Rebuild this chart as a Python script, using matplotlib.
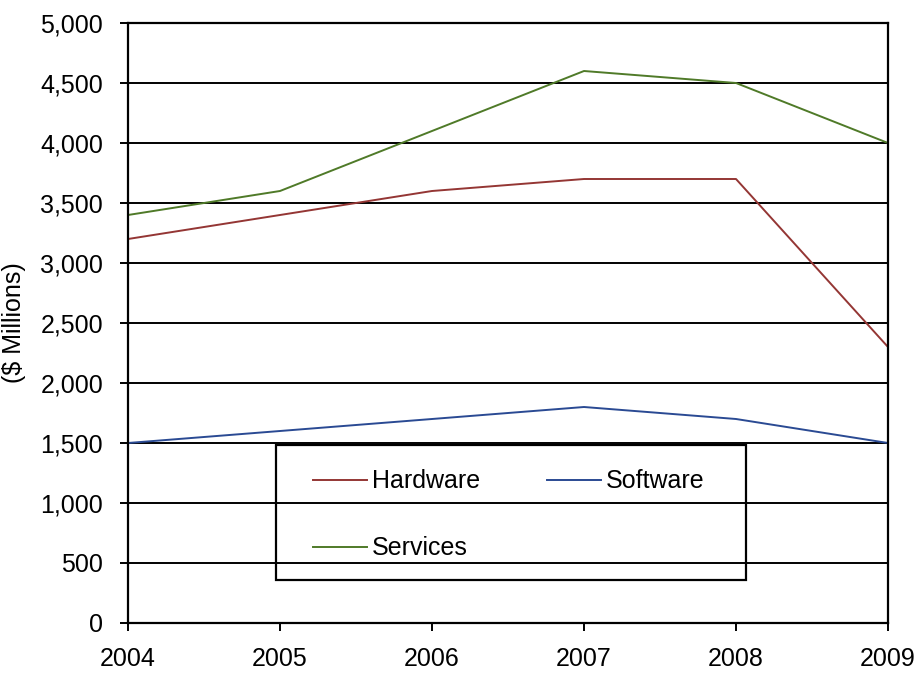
import matplotlib
matplotlib.use("Agg")
import matplotlib.pyplot as plt
from matplotlib.patches import Rectangle

years = [2004, 2005, 2006, 2007, 2008, 2009]
hardware = [3200, 3400, 3600, 3700, 3700, 2300]
software = [1500, 1600, 1700, 1800, 1700, 1500]
services = [3400, 3600, 4100, 4600, 4500, 4000]

plt.rcParams["font.family"] = ["Liberation Sans", "DejaVu Sans"]

fig = plt.figure(figsize=(9.17, 6.73), dpi=100)
ax = fig.add_axes([128 / 917, 50 / 673, 760 / 917, 600 / 673])

l_hw, = ax.plot(years, hardware, color="#943634", lw=1.4, label="Hardware")
l_sw, = ax.plot(years, software, color="#2a4a93", lw=1.4, label="Software")
l_sv, = ax.plot(years, services, color="#4f7a28", lw=1.4, label="Services")

ax.set_xlim(2004, 2009)
ax.set_ylim(0, 5000)
ax.set_xticks(years)
ax.set_yticks(range(0, 5001, 500))
ax.set_yticklabels([f"{v:,}" for v in range(0, 5001, 500)])
ax.yaxis.grid(True, color="black", lw=1.4)
ax.set_axisbelow(True)

for side in ax.spines:
    ax.spines[side].set_linewidth(1.6)

ax.tick_params(axis="both", labelsize=18, width=1.4, length=6, direction="out")
ax.tick_params(axis="x", pad=11)
ax.tick_params(axis="y", pad=12)
ax.set_ylabel("($ Millions)", fontsize=18, labelpad=10)

# legend: entries placed without frame, box drawn separately
leg = ax.legend([l_hw, l_sv, l_sw], ["Hardware", "Services", "Software"],
                loc="upper left", bbox_to_anchor=(0.2434, 0.256), ncol=2,
                fontsize=18, frameon=False, handlelength=2.16, handletextpad=0.2,
                labelspacing=1.72, columnspacing=2.68, borderaxespad=0, borderpad=0)
ax.add_patch(Rectangle((0.1947, 0.0717), 0.6184, 0.225, transform=ax.transAxes,
                       fill=False, edgecolor="black", lw=1.6, zorder=5))

fig.savefig("out.png", dpi=100)
